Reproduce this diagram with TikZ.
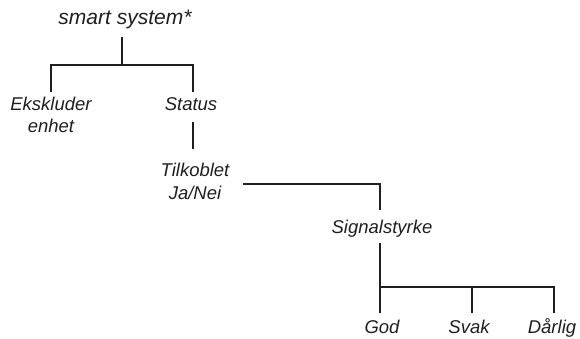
\documentclass[tikz,border=0pt]{standalone}
\usepackage{fontspec}
\setmainfont{Liberation Sans}
\begin{document}
\begin{tikzpicture}[x=1pt,y=-1pt,
  lab/.style={font=\fontsize{18.5}{22.5}\selectfont\itshape, inner sep=0pt, align=center, text=black!88},
  rootlab/.style={lab, font=\fontsize{21}{25}\selectfont\itshape},
  link/.style={line width=2pt, draw=black!88}]
\useasboundingbox (0,0) rectangle (580,339);
% nodes
\node[rootlab, anchor=base] (root) at (125,25) {smart system*};
\node[lab, anchor=base] (eks) at (51,133) {Ekskluder\\enhet};
\node[lab, anchor=base] (status) at (191,111) {Status};
\node[lab, anchor=base] (tilk) at (195,199) {Tilkoblet\\Ja/Nei};
\node[lab, anchor=base] (sig) at (382,233) {Signalstyrke};
\node[lab, anchor=base] (god) at (382,333) {God};
\node[lab, anchor=base] (svak) at (469,333) {Svak};
\node[lab, anchor=base] (darlig) at (552,333) {Dårlig};
% junction coordinates
\coordinate (r1) at (122,37);
\coordinate (j1) at (122,65);
\coordinate (jl) at (51,65);
\coordinate (jr) at (193,65);
\coordinate (e1) at (51,92);
\coordinate (s1) at (193,92);
\coordinate (st1) at (193,122);
\coordinate (st2) at (193,149);
\coordinate (t1) at (243,184);
\coordinate (t2) at (380,184);
\coordinate (t3) at (380,210);
\coordinate (sg1) at (380,243);
\coordinate (sg2) at (380,287);
\coordinate (sgr) at (554,287);
\coordinate (g1) at (380,313);
\coordinate (sv1) at (472,287);
\coordinate (sv2) at (472,313);
\coordinate (d1) at (554,313);
% connectors
\draw[link] (r1) -- (j1);
\draw[link] (e1) -- (jl) -- (jr) -- (s1);
\draw[link] (st1) -- (st2);
\draw[link] (t1) -- (t2) -- (t3);
\draw[link] (sg1) -- (g1);
\draw[link] (sg2) -- (sgr) -- (d1);
\draw[link] (sv1) -- (sv2);
\end{tikzpicture}
\end{document}
